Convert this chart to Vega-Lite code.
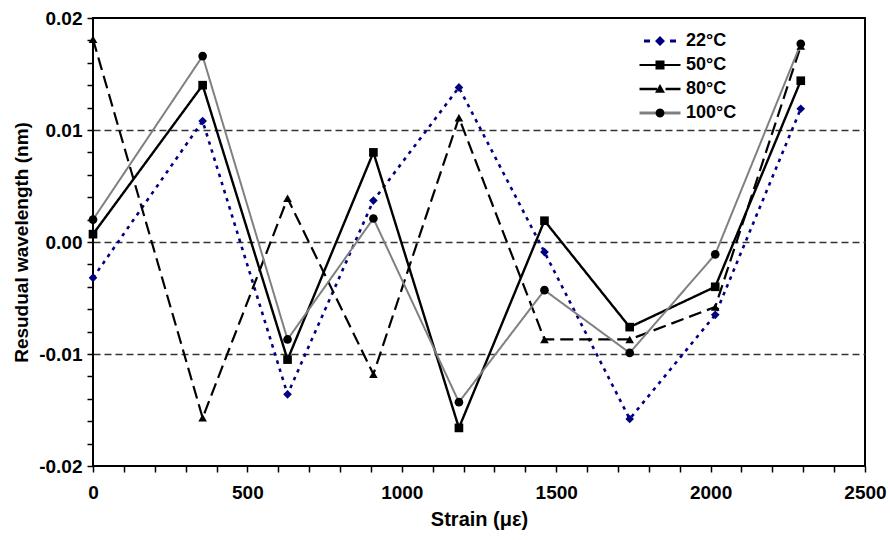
{
  "$schema": "https://vega.github.io/schema/vega-lite/v6.json",
  "width": 772,
  "height": 448,
  "autosize": "none",
  "padding": {"left": 93, "top": 18, "right": 25, "bottom": 74},
  "config": {
    "font": "Liberation Sans",
    "view": {"stroke": "black", "strokeWidth": 2},
    "legend": {"symbolStrokeWidth": 0}
  },
  "data": {
    "values": [
      {"temp": "22°C", "strain": 0, "residual": -0.0032},
      {"temp": "22°C", "strain": 355, "residual": 0.0108},
      {"temp": "22°C", "strain": 630, "residual": -0.0136},
      {"temp": "22°C", "strain": 908, "residual": 0.0037},
      {"temp": "22°C", "strain": 1185, "residual": 0.0138},
      {"temp": "22°C", "strain": 1462, "residual": -0.0009},
      {"temp": "22°C", "strain": 1738, "residual": -0.0158},
      {"temp": "22°C", "strain": 2015, "residual": -0.0065},
      {"temp": "22°C", "strain": 2292, "residual": 0.0119},
      {"temp": "50°C", "strain": 0, "residual": 0.0007},
      {"temp": "50°C", "strain": 355, "residual": 0.0140},
      {"temp": "50°C", "strain": 630, "residual": -0.0105},
      {"temp": "50°C", "strain": 908, "residual": 0.0080},
      {"temp": "50°C", "strain": 1185, "residual": -0.0166},
      {"temp": "50°C", "strain": 1462, "residual": 0.0019},
      {"temp": "50°C", "strain": 1738, "residual": -0.0076},
      {"temp": "50°C", "strain": 2015, "residual": -0.0040},
      {"temp": "50°C", "strain": 2292, "residual": 0.0144},
      {"temp": "80°C", "strain": 0, "residual": 0.0181},
      {"temp": "80°C", "strain": 355, "residual": -0.0157},
      {"temp": "80°C", "strain": 630, "residual": 0.0039},
      {"temp": "80°C", "strain": 908, "residual": -0.0118},
      {"temp": "80°C", "strain": 1185, "residual": 0.0111},
      {"temp": "80°C", "strain": 1462, "residual": -0.0087},
      {"temp": "80°C", "strain": 1738, "residual": -0.0087},
      {"temp": "80°C", "strain": 2015, "residual": -0.0058},
      {"temp": "80°C", "strain": 2292, "residual": 0.0175},
      {"temp": "100°C", "strain": 0, "residual": 0.0020},
      {"temp": "100°C", "strain": 355, "residual": 0.0166},
      {"temp": "100°C", "strain": 630, "residual": -0.0087},
      {"temp": "100°C", "strain": 908, "residual": 0.0021},
      {"temp": "100°C", "strain": 1185, "residual": -0.0143},
      {"temp": "100°C", "strain": 1462, "residual": -0.0043},
      {"temp": "100°C", "strain": 1738, "residual": -0.0099},
      {"temp": "100°C", "strain": 2015, "residual": -0.0011},
      {"temp": "100°C", "strain": 2292, "residual": 0.0177}
    ]
  },
  "encoding": {
    "x": {
      "field": "strain", "type": "quantitative",
      "scale": {"domain": [0, 2500], "nice": false, "zero": false},
      "axis": {
        "values": [0,100,200,300,400,500,600,700,800,900,1000,1100,1200,1300,1400,1500,1600,1700,1800,1900,2000,2100,2200,2300,2400,2500],
        "labelExpr": "datum.value % 500 === 0 ? format(datum.value, 'd') : ''",
        "labelFlush": false, "labelOverlap": false,
        "domain": false, "grid": false,
        "tickSize": 6, "tickColor": "black", "tickWidth": 1.5,
        "labelFontSize": 19, "labelFontWeight": "bold", "labelColor": "black", "labelPadding": 11,
        "title": "Strain (με)", "titleFontSize": 20, "titleFontWeight": "bold", "titleColor": "black", "titlePadding": 7
      }
    },
    "y": {
      "field": "residual", "type": "quantitative",
      "scale": {"domain": [-0.02, 0.02], "nice": false, "zero": false},
      "axis": {
        "values": [-0.02,-0.018,-0.016,-0.014,-0.012,-0.01,-0.008,-0.006,-0.004,-0.002,0,0.002,0.004,0.006,0.008,0.01,0.012,0.014,0.016,0.018,0.02],
        "labelExpr": "abs(datum.value*100 - round(datum.value*100)) < 1e-6 ? replace(format(datum.value, '.2f'), '−', '-') : ''",
        "labelFlush": false, "labelOverlap": false,
        "domain": false, "grid": true,
        "gridDash": [7, 4], "gridColor": "#333333", "gridWidth": 1.3,
        "gridOpacity": {"condition": {"test": "abs(abs(datum.value) - 0.01) < 1e-6 || abs(datum.value) < 1e-6", "value": 1}, "value": 0},
        "tickSize": 6, "tickColor": "black", "tickWidth": 1.5,
        "labelFontSize": 19, "labelFontWeight": "bold", "labelColor": "black", "labelPadding": 5,
        "title": "Resudual wavelength (nm)", "titleFontSize": 19, "titleFontWeight": "bold", "titleColor": "black", "titlePadding": 7
      }
    }
  },
  "layer": [
    {
      "mark": {"type": "line", "strokeCap": "butt"},
      "encoding": {
        "detail": {"field": "temp"},
        "stroke": {
          "field": "temp", "type": "nominal",
          "scale": {"domain": ["22°C", "50°C", "80°C", "100°C"], "range": ["#000080", "black", "black", "#808080"]},
          "legend": null
        },
        "strokeDash": {
          "field": "temp", "type": "nominal",
          "scale": {"domain": ["22°C", "50°C", "80°C", "100°C"], "range": [[3.5, 5], [1, 0], [13, 6], [1, 0]]},
          "legend": null
        },
        "strokeWidth": {
          "field": "temp", "type": "nominal",
          "scale": {"domain": ["22°C", "50°C", "80°C", "100°C"], "range": [2.6, 2, 2, 2]},
          "legend": null
        }
      }
    },
    {
      "mark": {"type": "point", "filled": true, "opacity": 1, "size": 75, "strokeWidth": 0},
      "encoding": {
        "shape": {
          "field": "temp", "type": "nominal",
          "scale": {"domain": ["22°C", "50°C", "80°C", "100°C"], "range": ["diamond", "square", "triangle-up", "circle"]},
          "legend": null
        },
        "fill": {
          "field": "temp", "type": "nominal",
          "scale": {"domain": ["22°C", "50°C", "80°C", "100°C"], "range": ["#000080", "black", "black", "black"]},
          "legend": null
        }
      }
    },
    {
      "transform": [{"filter": "false"}],
      "mark": {"type": "point", "filled": true, "opacity": 1, "strokeWidth": 0},
      "encoding": {
        "shape": {
          "field": "temp", "type": "nominal",
          "scale": {
            "domain": ["22°C", "50°C", "80°C", "100°C"],
            "range": [
              "M-3.2,-0.3H-2V0.3H-3.2Z M2,-0.3H3.2V0.3H2Z M-4.1,0L-4.1,0Z M4.1,0L4.1,0Z",
              "M-4.1,-0.2H4.1V0.2H-4.1Z",
              "M-4.1,-0.25H-0.6V0.25H-4.1Z M1.1,-0.25H4.1V0.25H1.1Z",
              "M-4.1,-0.3H4.1V0.3H-4.1Z"
            ]
          },
          "legend": {
            "orient": "none", "legendX": 558, "legendY": 14, "title": null,
            "symbolSize": 100, "labelOffset": 17, "labelFontSize": 18, "labelFontWeight": "bold",
            "labelColor": "black", "rowPadding": 6, "padding": 0
          }
        },
        "fill": {
          "field": "temp", "type": "nominal",
          "scale": {"domain": ["22°C", "50°C", "80°C", "100°C"], "range": ["#000080", "black", "black", "#808080"]},
          "legend": {
            "orient": "none", "legendX": 558, "legendY": 14, "title": null,
            "symbolSize": 100, "labelOffset": 17, "labelFontSize": 18, "labelFontWeight": "bold",
            "labelColor": "black", "rowPadding": 6, "padding": 0
          }
        }
      }
    },
    {
      "transform": [{"filter": "false"}],
      "mark": {"type": "point", "filled": true, "opacity": 1, "strokeWidth": 0},
      "encoding": {
        "shape": {
          "field": "temp", "type": "nominal",
          "scale": {
            "domain": ["22°C", "50°C", "80°C", "100°C"],
            "range": [
              "M0,-1L1,0L0,1L-1,0Z M-4.1,0L-4.1,0Z M4.1,0L4.1,0Z",
              "M-0.9,-0.9H0.9V0.9H-0.9Z M-4.1,0L-4.1,0Z M4.1,0L4.1,0Z",
              "M0,-1L1,0.75L-1,0.75Z M-4.1,0L-4.1,0Z M4.1,0L4.1,0Z",
              "M0.9,0L0.779,0.45L0.45,0.779L0,0.9L-0.45,0.779L-0.779,0.45L-0.9,0L-0.779,-0.45L-0.45,-0.779L0,-0.9L0.45,-0.779L0.779,-0.45Z M-4.1,0L-4.1,0Z M4.1,0L4.1,0Z"
            ]
          },
          "legend": {
            "orient": "none", "legendX": 558, "legendY": 14, "title": null,
            "symbolSize": 100, "labelOffset": 17, "labelFontSize": 18, "labelFontWeight": "bold",
            "labelColor": "black", "labelOpacity": 0, "rowPadding": 6, "padding": 0
          }
        },
        "fill": {
          "field": "temp", "type": "nominal",
          "scale": {"domain": ["22°C", "50°C", "80°C", "100°C"], "range": ["#000080", "black", "black", "black"]},
          "legend": {
            "orient": "none", "legendX": 558, "legendY": 14, "title": null,
            "symbolSize": 100, "labelOffset": 17, "labelFontSize": 18, "labelFontWeight": "bold",
            "labelColor": "black", "labelOpacity": 0, "rowPadding": 6, "padding": 0
          }
        }
      }
    }
  ],
  "resolve": {"scale": {"shape": "independent", "fill": "independent"}}
}
